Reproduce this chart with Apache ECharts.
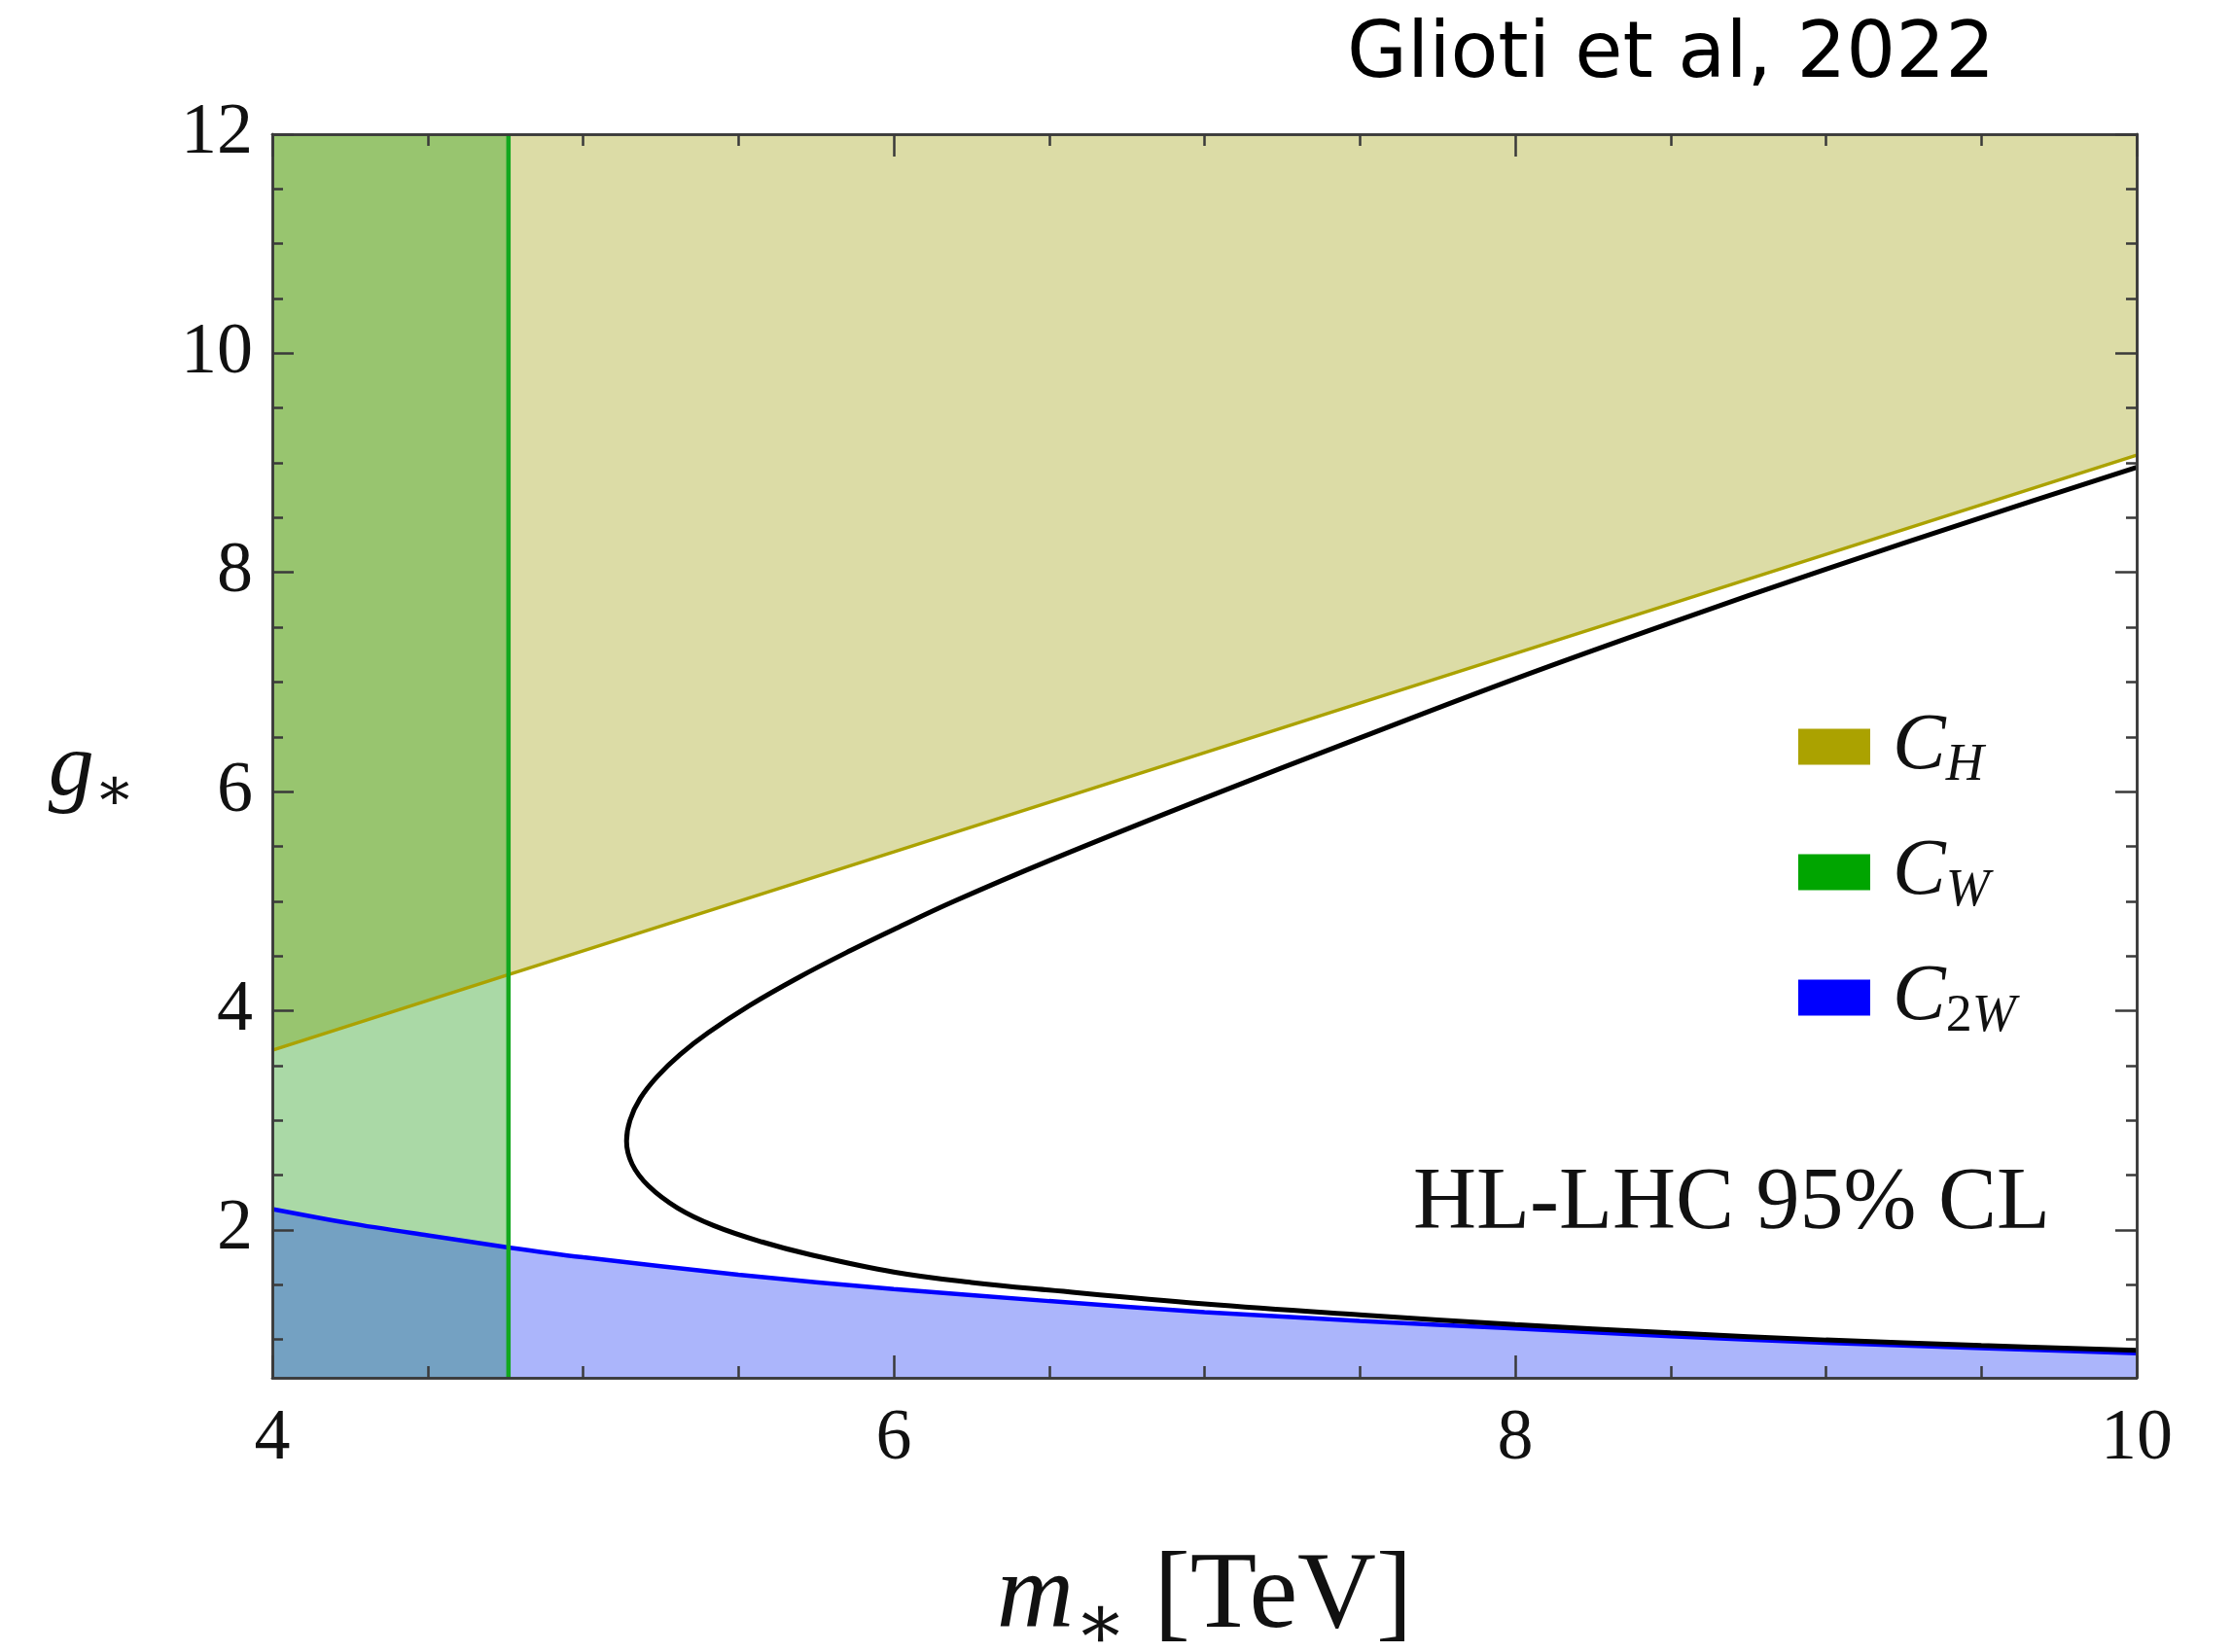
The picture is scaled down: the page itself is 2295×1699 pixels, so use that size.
<!DOCTYPE html>
<html>
<head>
<meta charset="utf-8">
<script src="https://cdn.jsdelivr.net/npm/echarts@6/dist/echarts.min.js"></script>
<style>
  html, body { margin: 0; padding: 0; background: #ffffff; }
  #chart { width: 2295px; height: 1699px; }
</style>
</head>
<body>
<div id="chart"></div>
<script>
// ---- axis ranges and tick positions ----
const massRange = [4, 10];
const couplingRange = [0.65, 12];
const massMajorTicks = [4, 6, 8, 10];
const massMinorTicks = [4.5, 5, 5.5, 6.5, 7, 7.5, 8.5, 9, 9.5];
const couplingMajorTicks = [2, 4, 6, 8, 10, 12];
const couplingMinorTicks = [1, 1.5, 2.5, 3, 3.5, 4.5, 5, 5.5, 6.5, 7, 7.5, 8.5, 9, 9.5, 10.5, 11, 11.5];

// ---- C_H bound: excluded above the line ----
const chMass = [4, 4.76, 6, 8, 10];
const chCoupling = [3.64, 4.33, 5.45, 7.26, 9.07];

// ---- C_2W bound: excluded below the curve ----
const c2wMass = [4, 4.25, 4.5, 4.76, 5, 5.5, 6, 6.5, 7, 7.5, 8, 8.5, 9, 9.5, 10];
const c2wCoupling = [2.19, 2.06, 1.95, 1.84, 1.75, 1.59, 1.46, 1.35, 1.25, 1.17, 1.10, 1.03, 0.97, 0.92, 0.875];

// ---- C_W bound: excluded below this mass ----
const cwMass = 4.76;

// ---- combined contour: upper branch, turning point, lower branch ----
const comboUpperMass = [10, 9.5, 9, 8.5, 8, 7.5, 7, 6.5, 6.195, 6.006, 5.861, 5.691, 5.537, 5.403, 5.312, 5.239, 5.184, 5.151];
const comboUpperCoupling = [8.96, 8.50, 8.03, 7.54, 7.03, 6.49, 5.94, 5.37, 5.00, 4.75, 4.55, 4.30, 4.05, 3.80, 3.60, 3.40, 3.20, 3.00];
const comboTurnMass = 5.14, comboTurnCoupling = 2.81;
const comboLowerMass = [5.158, 5.211, 5.304, 5.42, 5.576, 5.73, 6.0, 6.25, 6.5, 7, 7.5, 8, 8.5, 9, 9.5, 10];
const comboLowerCoupling = [2.60, 2.40, 2.20, 2.04, 1.89, 1.775, 1.615, 1.52, 1.45, 1.325, 1.225, 1.135, 1.06, 0.995, 0.945, 0.90];

// ---- colours ----
const colH = '#aba200', colW = '#12a81e', col2W = '#0000ff';
const fillH = '#dcdca6', fill2W = '#abb5fb', fillW = '#aad9a6';
const fillWH = '#98c56f', fillW2W = '#74a1c2';

const pts = (xs, ys) => xs.map((x, i) => [x, ys[i]]);
const inBand = p => p[0] <= cwMass;
const comboPath = pts(comboUpperMass, comboUpperCoupling)
  .concat([[comboTurnMass, comboTurnCoupling]])
  .concat(pts(comboLowerMass, comboLowerCoupling));

const serif = 'Liberation Serif';
const frameColor = '#3a3a3a';
const tickLabel = { fontFamily: serif, fontSize: 74, color: '#111' };

function frameAxis(position, range, ticks, len, labels, extra) {
  return Object.assign({
    type: 'value', position, min: range[0], max: range[1], z: 10,
    axisLine: { show: true, onZero: false, lineStyle: { color: frameColor, width: 2.5 } },
    axisTick: { show: true, inside: true, length: len, customValues: ticks,
                lineStyle: { color: frameColor, width: 2.5 } },
    axisLabel: labels ? Object.assign({ show: true, customValues: ticks,
                showMinLabel: true, showMaxLabel: true }, tickLabel, labels) : { show: false },
    minorTick: { show: false },
    splitLine: { show: false }
  }, extra || {});
}

const chart = echarts.init(document.getElementById('chart'), null, { renderer: 'canvas' });

const legendLabel = { C_H: '{c|C}{s|H}', C_W: '{c|C}{s|W}', C_2W: '{c|C}{n|2}{s|W}' };

const option = {
  animation: false,
  backgroundColor: '#ffffff',
  grid: { left: 280, right: 98, top: 138, bottom: 282, containLabel: false, outerBoundsMode: 'none' },
  xAxis: [
    frameAxis('bottom', massRange, massMajorTicks, 23, { margin: 27 }, {
      name: '{m|m}{s|∗}{t| [TeV]}',
      nameLocation: 'middle',
      nameGap: 157,
      nameTextStyle: {
        color: '#111',
        rich: {
          m: { fontFamily: serif, fontStyle: 'italic', fontSize: 110, lineHeight: 140, color: '#111' },
          s: { fontFamily: 'DejaVu Serif', fontSize: 80, verticalAlign: 'bottom', color: '#111' },
          t: { fontFamily: serif, fontSize: 112, color: '#111' }
        }
      }
    }),
    frameAxis('bottom', massRange, massMinorTicks, 12, null),
    frameAxis('top', massRange, massMajorTicks, 23, null),
    frameAxis('top', massRange, massMinorTicks, 12, null)
  ],
  yAxis: [
    frameAxis('left', couplingRange, couplingMajorTicks, 22, { margin: 20 }, {
      name: '{g|g}{s|∗}',
      nameLocation: 'middle',
      nameRotate: 0,
      nameGap: 141,
      nameTextStyle: {
        align: 'right', verticalAlign: 'middle', color: '#111',
        padding: [30, 0, 0, 0],
        rich: {
          g: { fontFamily: serif, fontStyle: 'italic', fontSize: 94, lineHeight: 108, color: '#111' },
          s: { fontFamily: 'DejaVu Serif', fontSize: 62, verticalAlign: 'bottom', color: '#111' }
        }
      }
    }),
    frameAxis('left', couplingRange, couplingMinorTicks, 11, null),
    frameAxis('right', couplingRange, couplingMajorTicks, 22, null),
    frameAxis('right', couplingRange, couplingMinorTicks, 11, null)
  ],
  legend: {
    data: ['C_H', 'C_W', 'C_2W'],
    orient: 'vertical',
    left: 1849,
    top: 727,
    padding: 0,
    itemWidth: 74,
    itemHeight: 37,
    itemGap: 41,
    icon: 'rect',
    selectedMode: false,
    itemStyle: { borderWidth: 0 },
    formatter: name => legendLabel[name],
    textStyle: {
      color: '#111',
      rich: {
        c: { fontFamily: serif, fontStyle: 'italic', fontSize: 82, lineHeight: 94, padding: [0, 0, 0, 18], color: '#111' },
        s: { fontFamily: serif, fontStyle: 'italic', fontSize: 54, verticalAlign: 'bottom', color: '#111' },
        n: { fontFamily: serif, fontSize: 54, verticalAlign: 'bottom', color: '#111' }
      }
    }
  },
  graphic: [
    {
      type: 'text', x: 2108, y: 1239, silent: true, z: 20,
      style: { text: 'HL-LHC 95% CL', font: '90px "Liberation Serif"', fill: '#111',
               align: 'right', verticalAlign: 'middle' }
    },
    {
      type: 'text', x: 1718, y: 58, silent: true, z: 20,
      style: { text: 'Glioti et al, 2022', font: '80px "DejaVu Sans"', fill: '#000',
               align: 'center', verticalAlign: 'middle' }
    }
  ],
  series: [
    // excluded regions, painted first
    { type: 'line', silent: true, showSymbol: false, z: 1,
      data: pts(chMass, chCoupling), lineStyle: { opacity: 0 },
      areaStyle: { origin: 'end', color: fillH, opacity: 1 } },
    { type: 'line', silent: true, showSymbol: false, z: 1, smooth: 0.3,
      data: pts(c2wMass, c2wCoupling), lineStyle: { opacity: 0 },
      areaStyle: { origin: 'start', color: fill2W, opacity: 1 } },
    { type: 'line', silent: true, showSymbol: false, z: 1,
      data: [[massRange[0], couplingRange[1]], [cwMass, couplingRange[1]]], lineStyle: { opacity: 0 },
      areaStyle: { origin: 'start', color: fillW, opacity: 1 } },
    { type: 'line', silent: true, showSymbol: false, z: 1,
      data: pts(chMass, chCoupling).filter(inBand), lineStyle: { opacity: 0 },
      areaStyle: { origin: 'end', color: fillWH, opacity: 1 } },
    { type: 'line', silent: true, showSymbol: false, z: 1, smooth: 0.3,
      data: pts(c2wMass, c2wCoupling).filter(inBand), lineStyle: { opacity: 0 },
      areaStyle: { origin: 'start', color: fillW2W, opacity: 1 } },
    // boundary lines
    { name: 'C_H', type: 'line', silent: true, showSymbol: false, z: 3,
      data: pts(chMass, chCoupling),
      itemStyle: { color: colH }, lineStyle: { color: colH, width: 3.5 } },
    { name: 'C_2W', type: 'line', silent: true, showSymbol: false, z: 3, smooth: 0.3,
      data: pts(c2wMass, c2wCoupling),
      itemStyle: { color: col2W }, lineStyle: { color: col2W, width: 4.5 } },
    { name: 'C_W', type: 'line', silent: true, showSymbol: false, z: 3,
      data: [[cwMass, couplingRange[0]], [cwMass, couplingRange[1]]],
      itemStyle: { color: '#00a500' }, lineStyle: { color: colW, width: 4.5 } },
    { name: 'combined', type: 'line', silent: true, showSymbol: false, z: 4, smooth: 0.4,
      data: comboPath,
      itemStyle: { color: '#000' }, lineStyle: { color: '#000', width: 5 } }
  ]
};

chart.setOption(option);
</script>
</body>
</html>
